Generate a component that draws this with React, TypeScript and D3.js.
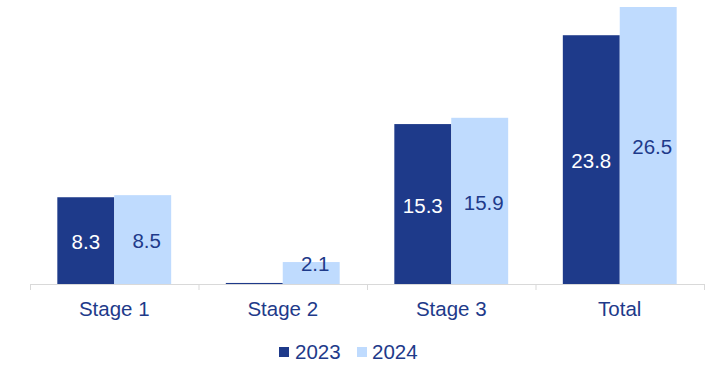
import React from "react";
import * as d3 from "d3";

const categories = ["Stage 1", "Stage 2", "Stage 3", "Total"];
const series = ["2023", "2024"];
const values2023 = [8.3, 0.1, 15.3, 23.8];
const values2024 = [8.5, 2.1, 15.9, 26.5];
const colors = ["#1e3a8a", "#bfdbfe"];
const labelColors = ["#ffffff", "#1e3a8a"];
const labelShift = [0, 4];

const W = 711;
const H = 365;
const left = 30;
const right = 704;
const baseY = 284;
const FONT = "'Liberation Sans', Arial, sans-serif";
const FS = 20.5;

export default function App() {
  const x0 = d3.scaleBand<string>().domain(categories).range([left, right]).paddingInner(0).paddingOuter(0);
  const x1 = d3.scaleBand<string>().domain(series).range([0, x0.bandwidth()]).paddingInner(0).paddingOuter(0.48);
  const y = d3.scaleLinear().domain([0, 26.5]).range([baseY, 7]);
  const data = [values2023, values2024];
  const ticks = [...categories.map((c) => x0(c) as number), right];

  return (
    <svg width={W} height={H} style={{ position: "absolute", left: 0, top: 0 }}>
      <rect width={W} height={H} fill="#fff" />
      {categories.map((c, i) =>
        series.map((s, j) => {
          const v = data[j][i];
          const bx = (x0(c) as number) + (x1(s) as number);
          const bw = x1.bandwidth();
          const top = y(v);
          const h = baseY - top;
          const cx = bx + bw / 2 + labelShift[j];
          const ly = h < 30 ? top : top + h / 2;
          return (
            <g key={c + s}>
              <rect x={bx} y={top} width={bw} height={Math.max(h, 1)} fill={colors[j]} />
              {v >= 1 && (
                <text x={cx} y={ly} dy="0.42em" textAnchor="middle" fontFamily={FONT} fontSize={FS} fill={labelColors[j]}>
                  {v.toFixed(1)}
                </text>
              )}
            </g>
          );
        })
      )}
      <line x1={left} x2={right} y1={baseY + 0.5} y2={baseY + 0.5} stroke="#d9d9d9" strokeWidth={1} />
      {ticks.map((t, i) => (
        <line key={i} x1={t + 0.5} x2={t + 0.5} y1={baseY} y2={baseY + 6} stroke="#d9d9d9" strokeWidth={1} />
      ))}
      {categories.map((c) => (
        <text key={c} x={(x0(c) as number) + x0.bandwidth() / 2} y={316} textAnchor="middle" fontFamily={FONT} fontSize={FS} fill="#1e3a8a">
          {c}
        </text>
      ))}
      <g>
        <rect x={279} y={347} width={10} height={10} fill={colors[0]} />
        <text x={295} y={359} fontFamily={FONT} fontSize={FS} fill="#1e3a8a">{series[0]}</text>
        <rect x={357} y={347} width={10} height={10} fill={colors[1]} />
        <text x={372} y={359} fontFamily={FONT} fontSize={FS} fill="#1e3a8a">{series[1]}</text>
      </g>
    </svg>
  );
}
